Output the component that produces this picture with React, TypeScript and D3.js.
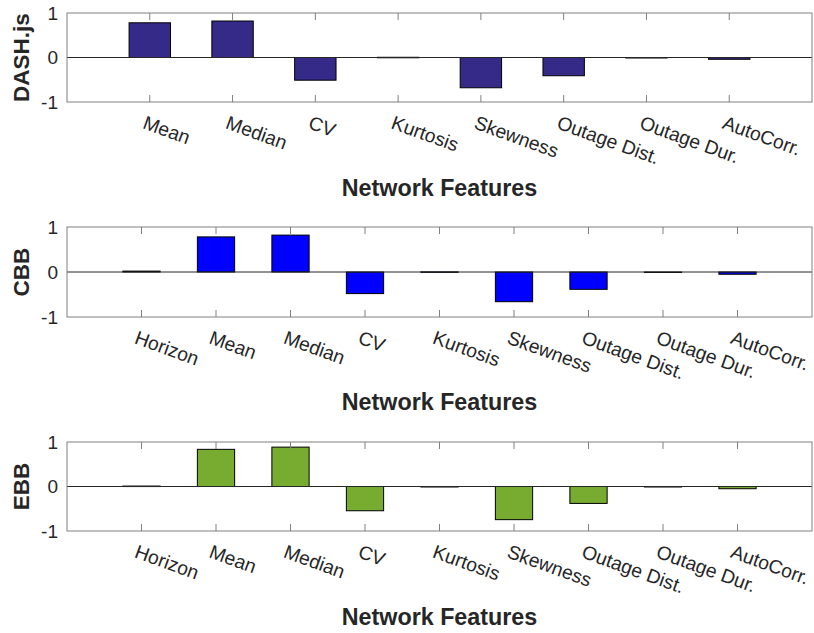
import React from "react";
import * as d3 from "d3";

const dashCategories = ["Mean", "Median", "CV", "Kurtosis", "Skewness", "Outage Dist.", "Outage Dur.", "AutoCorr."];
const dashValues = [0.78, 0.82, -0.51, 0.005, -0.68, -0.41, -0.01, -0.04];

const cbbCategories = ["Horizon", "Mean", "Median", "CV", "Kurtosis", "Skewness", "Outage Dist.", "Outage Dur.", "AutoCorr."];
const cbbValues = [0.02, 0.78, 0.82, -0.48, 0.003, -0.66, -0.385, -0.01, -0.05];

const ebbCategories = ["Horizon", "Mean", "Median", "CV", "Kurtosis", "Skewness", "Outage Dist.", "Outage Dur.", "AutoCorr."];
const ebbValues = [0.01, 0.835, 0.885, -0.545, -0.005, -0.745, -0.38, -0.01, -0.05];

const yTicks = [-1, 0, 1];
const xAxisTitle = "Network Features";

const panels = [
  { label: "DASH.js", categories: dashCategories, values: dashValues, color: "#352a87", top: 13, bottom: 102, titleY: 196 },
  { label: "CBB", categories: cbbCategories, values: cbbValues, color: "#0000ff", top: 227, bottom: 317, titleY: 410 },
  { label: "EBB", categories: ebbCategories, values: ebbValues, color: "#77ac30", top: 442, bottom: 531, titleY: 625 },
];

const LEFT = 67;
const RIGHT = 812;
const FONT = "'Liberation Sans', Arial, Helvetica, sans-serif";

function Panel({ p }: { p: typeof panels[number] }) {
  const n = p.categories.length;
  const x = d3.scaleLinear().domain([0, n + 1]).range([LEFT, RIGHT]);
  const y = d3.scaleLinear().domain([-1, 1]).range([p.bottom, p.top]);
  const bw = x(0.5) - x(0);
  const cx = (LEFT + RIGHT) / 2;
  const cy = (p.top + p.bottom) / 2;
  return (
    <g>
      {p.values.map((v, i) => {
        const xc = x(i + 1);
        const y0 = y(0);
        const yv = y(v);
        return (
          <rect
            key={i}
            x={xc - bw / 2}
            y={Math.min(y0, yv)}
            width={bw}
            height={Math.max(Math.abs(yv - y0), 0.5)}
            fill={p.color}
            stroke="#000"
            strokeWidth={1}
          />
        );
      })}
      <line x1={LEFT} x2={RIGHT} y1={y(0)} y2={y(0)} stroke="#262626" strokeWidth={1} />
      <rect x={LEFT} y={p.top} width={RIGHT - LEFT} height={p.bottom - p.top} fill="none" stroke="#808080" strokeWidth={1} />
      {p.categories.map((c, i) => {
        const xc = x(i + 1);
        return (
          <g key={c + i}>
            <line x1={xc} x2={xc} y1={p.top} y2={p.top + 7} stroke="#808080" />
            <line x1={xc} x2={xc} y1={p.bottom} y2={p.bottom - 7} stroke="#808080" />
            <text
              transform={`translate(${xc - 8},${p.bottom + 26}) rotate(20)`}
              fontFamily={FONT}
              fontSize={19.3}
              fill="#262626"
            >
              {c}
            </text>
          </g>
        );
      })}
      {yTicks.map((t) => (
        <text key={t} x={58} y={y(t)} dy="0.35em" textAnchor="end" fontFamily={FONT} fontSize={19} fill="#262626">
          {t}
        </text>
      ))}
      <text
        transform={`translate(28.5,${cy}) rotate(-90)`}
        textAnchor="middle"
        fontFamily={FONT}
        fontWeight="bold"
        fontSize={22.5}
        fill="#262626"
      >
        {p.label}
      </text>
      <text x={cx} y={p.titleY} textAnchor="middle" fontFamily={FONT} fontWeight="bold" fontSize={23.3} fill="#262626">
        {xAxisTitle}
      </text>
    </g>
  );
}

export default function App() {
  return (
    <svg
      width={814}
      height={633}
      viewBox="0 0 814 633"
      style={{ position: "absolute", left: 0, top: 0, background: "#fff", display: "block" }}
    >
      <rect x={0} y={0} width={814} height={633} fill="#fff" />
      {panels.map((p) => (
        <Panel key={p.label} p={p} />
      ))}
    </svg>
  );
}
